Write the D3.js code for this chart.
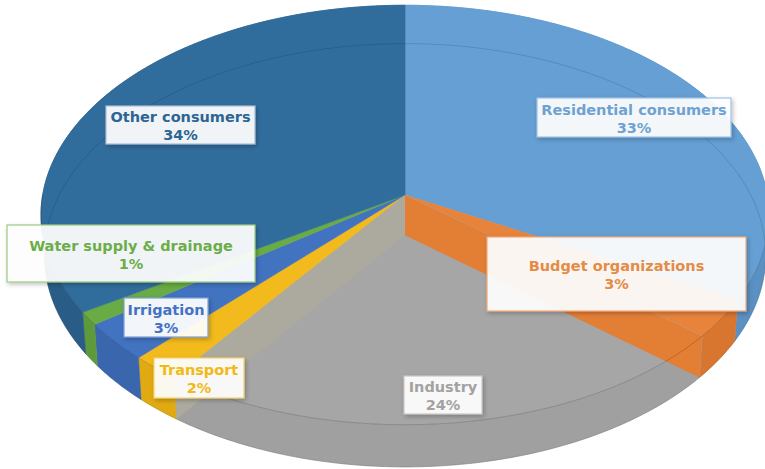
<!DOCTYPE html>
<html>
<head>
<meta charset="utf-8">
<script src="https://cdn.jsdelivr.net/npm/d3@7"></script>
<style>
  html, body { margin: 0; padding: 0; background: #ffffff; }
  svg { display: block; }
</style>
</head>
<body>
<script>
// Electricity consumption structure by consumer group (shares, %)
const categories = [
  "Residential consumers",
  "Budget organizations",
  "Industry",
  "Transport",
  "Irrigation",
  "Water supply & drainage",
  "Other consumers"
];
const shares = [33, 3, 24, 2, 3, 1, 34];

// Slice styling
const topFill   = ["#659fd3", "#e8833b", "#a6a6a6", "#f2ba1c", "#4273c1", "#69ab44", "#316d9c"];
const wallFill  = ["#5a90c2", "#d8752e", "#a0a0a0", "#e2aa12", "#3a66ad", "#5e9a3c", "#295c87"];
const labelInk  = ["#6ea2d2", "#e48b46", "#a2a2a2", "#f2b915", "#4472c4", "#6cad48", "#2c6594"];
const labelEdge = ["#9cc2e5", "#f0a878", "#c9c9c9", "#f7d36a", "#7f9fd8", "#9ccb7f", "#a8c0d8"];

// Data-label boxes: centre and size in px
const labelCenter = [[634, 117.5], [616.5, 274], [443, 395], [199, 378], [166, 317.5], [131, 253.5], [180.5, 125]];
const labelSize   = [[194, 39], [259, 74], [78, 38], [90, 40], [84, 39], [248, 57], [149, 38]];

const W = 765, H = 469;

// Perspective view of a tilted disc
const view = {
  cx: 405, cy: 195,          // screen position of the disc centre
  f: 3116,                   // focal length
  D: 8.6,                    // camera distance (disc radius = 1)
  tilt: 35 * Math.PI / 180,  // viewing elevation
  h: 0.137                   // disc thickness
};
const sinA = Math.sin(view.tilt), cosA = Math.cos(view.tilt);

// angle is clockwise from 12 o'clock; rho = radius fraction; y = height
function project(angle, rho, y) {
  const X = rho * Math.sin(angle);
  const Z = rho * Math.cos(angle);
  const depth = view.D + Z * cosA - y * sinA;
  return [
    view.cx + view.f * X / depth,
    view.cy - view.f * (Z * sinA + y * cosA) / depth
  ];
}

function arcPoints(a0, a1, rho, y) {
  const n = Math.max(4, Math.ceil(Math.abs(a1 - a0) / 0.01));
  const pts = [];
  for (let i = 0; i <= n; i++) pts.push(project(a0 + (a1 - a0) * i / n, rho, y));
  return pts;
}

const pie = d3.pie().sort(null).value(d => d);
const arcs = pie(shares);
const line = d3.line();
const closed = pts => line(pts) + "Z";

const svg = d3.select("body").append("svg")
  .attr("width", W).attr("height", H)
  .attr("viewBox", `0 0 ${W} ${H}`);

const defs = svg.append("defs");
const shadow = defs.append("filter").attr("id", "boxShadow")
  .attr("x", "-20%").attr("y", "-30%").attr("width", "140%").attr("height", "160%");
shadow.append("feDropShadow")
  .attr("dx", 1.5).attr("dy", 2).attr("stdDeviation", 2)
  .attr("flood-color", "#000").attr("flood-opacity", 0.25);

const pieG = svg.append("g");

// Outer walls (drawn first, the tops cover any back-facing parts)
pieG.selectAll("path.wall").data(arcs).join("path")
  .attr("class", "wall")
  .attr("d", d => {
    const top = arcPoints(d.startAngle, d.endAngle, 1, 0);
    const bottom = arcPoints(d.endAngle, d.startAngle, 1, -view.h);
    return closed(top.concat(bottom));
  })
  .attr("fill", (d, i) => wallFill[i])
  .attr("stroke", (d, i) => wallFill[i])
  .attr("stroke-width", 0.6);

// Top faces
pieG.selectAll("path.top").data(arcs).join("path")
  .attr("class", "top")
  .attr("d", d => closed([project(0, 0, 0)].concat(arcPoints(d.startAngle, d.endAngle, 1, 0))))
  .attr("fill", (d, i) => topFill[i])
  .attr("stroke", (d, i) => topFill[i])
  .attr("stroke-width", 0.6);

// Radial side faces bordering the Industry slice
function sideFace(angle) {
  return closed([
    project(0, 0, 0), project(angle, 1, 0),
    project(angle, 1, -view.h), project(0, 0, -view.h)
  ]);
}
const ind = arcs[2];
pieG.append("path")
  .attr("d", sideFace(ind.startAngle))
  .attr("fill", "#e37e35");
pieG.append("path")
  .attr("d", sideFace(ind.endAngle))
  .attr("fill", "#aca99e");

// Faint rim lines
pieG.append("path")
  .attr("d", line(arcPoints(0, 2 * Math.PI, 1, -view.h)))
  .attr("fill", "none").attr("stroke", "#000").attr("stroke-opacity", 0.13).attr("stroke-width", 1);
pieG.append("path")
  .attr("d", line(arcPoints(Math.PI / 2, 3 * Math.PI / 2, 1, 0)))
  .attr("fill", "none").attr("stroke", "#000").attr("stroke-opacity", 0.18).attr("stroke-width", 1);

// Data labels
const labels = svg.append("g").selectAll("g").data(arcs).join("g")
  .attr("transform", (d, i) => `translate(${labelCenter[i][0]},${labelCenter[i][1]})`);

labels.append("rect")
  .attr("x", (d, i) => -labelSize[i][0] / 2)
  .attr("y", (d, i) => -labelSize[i][1] / 2)
  .attr("width", (d, i) => labelSize[i][0])
  .attr("height", (d, i) => labelSize[i][1])
  .attr("fill", "#ffffff").attr("fill-opacity", 0.92)
  .attr("stroke", (d, i) => labelEdge[i]).attr("stroke-width", 1.2)
  .attr("filter", "url(#boxShadow)");

const textStyle = sel => sel
  .attr("text-anchor", "middle")
  .attr("font-family", "'DejaVu Sans', sans-serif")
  .attr("font-weight", 700)
  .attr("font-size", 14.5)
  .attr("fill", (d, i) => labelInk[i]);

labels.append("text").call(textStyle)
  .attr("y", -3)
  .text((d, i) => categories[i]);
labels.append("text").call(textStyle)
  .attr("y", 15)
  .text(d => d.data + "%");
</script>
</body>
</html>
